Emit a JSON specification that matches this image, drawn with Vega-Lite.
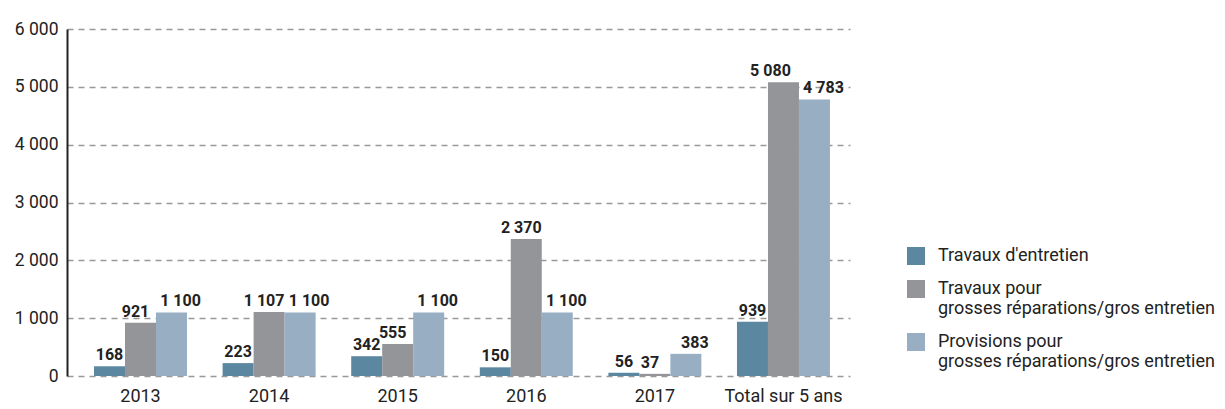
{
  "$schema": "https://vega.github.io/schema/vega-lite/v6.json",
  "autosize": {"type": "none"},
  "padding": {"left": 67, "top": 29, "right": 375, "bottom": 33},
  "width": 783,
  "height": 347,
  "background": "white",
  "config": {
    "font": "Roboto, sans-serif",
    "view": {"stroke": null},
    "locale": {"number": {"decimal": ",", "thousands": " ", "grouping": [3], "currency": ["", " €"]}},
    "style": {"guide-label": {"lineHeight": 20}}
  },
  "data": {
    "values": [
      {"annee": "2013", "serie": "Travaux d'entretien", "valeur": 168},
      {"annee": "2013", "serie": "Travaux pour|grosses réparations/gros entretien", "valeur": 921},
      {"annee": "2013", "serie": "Provisions pour|grosses réparations/gros entretien", "valeur": 1100},
      {"annee": "2014", "serie": "Travaux d'entretien", "valeur": 223},
      {"annee": "2014", "serie": "Travaux pour|grosses réparations/gros entretien", "valeur": 1107},
      {"annee": "2014", "serie": "Provisions pour|grosses réparations/gros entretien", "valeur": 1100},
      {"annee": "2015", "serie": "Travaux d'entretien", "valeur": 342},
      {"annee": "2015", "serie": "Travaux pour|grosses réparations/gros entretien", "valeur": 555},
      {"annee": "2015", "serie": "Provisions pour|grosses réparations/gros entretien", "valeur": 1100},
      {"annee": "2016", "serie": "Travaux d'entretien", "valeur": 150},
      {"annee": "2016", "serie": "Travaux pour|grosses réparations/gros entretien", "valeur": 2370},
      {"annee": "2016", "serie": "Provisions pour|grosses réparations/gros entretien", "valeur": 1100},
      {"annee": "2017", "serie": "Travaux d'entretien", "valeur": 56},
      {"annee": "2017", "serie": "Travaux pour|grosses réparations/gros entretien", "valeur": 37},
      {"annee": "2017", "serie": "Provisions pour|grosses réparations/gros entretien", "valeur": 383},
      {"annee": "Total sur 5 ans", "serie": "Travaux d'entretien", "valeur": 939},
      {"annee": "Total sur 5 ans", "serie": "Travaux pour|grosses réparations/gros entretien", "valeur": 5080},
      {"annee": "Total sur 5 ans", "serie": "Provisions pour|grosses réparations/gros entretien", "valeur": 4783}
    ]
  },
  "encoding": {
    "x": {
      "field": "annee", "type": "nominal", "sort": null,
      "scale": {"paddingInner": 0.277, "paddingOuter": 0.183, "align": 0.574},
      "axis": {"title": null, "labelAngle": 0, "ticks": false, "domain": false, "labelFontSize": 18, "labelColor": "#222", "labelPadding": 11}
    },
    "xOffset": {"field": "serie", "type": "nominal", "sort": null},
    "y": {
      "field": "valeur", "type": "quantitative",
      "scale": {"domain": [0, 6000], "nice": false},
      "axis": {"title": null, "values": [0, 1000, 2000, 3000, 4000, 5000, 6000], "format": ",d", "grid": true, "gridDash": [6, 5], "gridColor": "#999", "gridWidth": 1.3, "domainColor": "#222", "domainWidth": 2, "ticks": false, "labelFontSize": 17.5, "labelColor": "#222", "labelPadding": 9}
    }
  },
  "layer": [
    {
      "mark": {"type": "bar"},
      "encoding": {
        "color": {
          "field": "serie", "type": "nominal", "sort": null,
          "scale": {"range": ["#5b87a0", "#939598", "#98aec3"]},
          "legend": {"title": null, "orient": "none", "legendX": 840, "legendY": 218, "padding": 0, "symbolType": "square", "symbolSize": 324, "symbolStrokeWidth": 0, "symbolOpacity": 1, "labelFontSize": 18, "labelColor": "#222", "labelLimit": 400, "rowPadding": 15, "labelOffset": 13,
            "labelExpr": "split(datum.label, '|')"}
        }
      }
    },
    {
      "transform": [{"filter": "datum.serie == \"Travaux d'entretien\""}],
      "mark": {"type": "text", "baseline": "bottom", "dy": -3, "fontWeight": "bold", "fontSize": 16, "color": "#222"},
      "encoding": {
        "text": {"field": "valeur", "type": "quantitative", "format": ",d"}
      }
    },
    {
      "transform": [{"filter": "indexof(datum.serie, 'Travaux pour') == 0 && datum.annee != 'Total sur 5 ans'"}],
      "mark": {"type": "text", "baseline": "bottom", "dy": -3, "dx": -5, "fontWeight": "bold", "fontSize": 16, "color": "#222"},
      "encoding": {
        "text": {"field": "valeur", "type": "quantitative", "format": ",d"}
      }
    },
    {
      "transform": [{"filter": "indexof(datum.serie, 'Travaux pour') == 0 && datum.annee == 'Total sur 5 ans'"}],
      "mark": {"type": "text", "baseline": "bottom", "dy": -3, "dx": -13, "fontWeight": "bold", "fontSize": 16, "color": "#222"},
      "encoding": {
        "text": {"field": "valeur", "type": "quantitative", "format": ",d"}
      }
    },
    {
      "transform": [{"filter": "indexof(datum.serie, 'Provisions') == 0"}],
      "mark": {"type": "text", "baseline": "bottom", "dy": -3, "dx": 9, "fontWeight": "bold", "fontSize": 16, "color": "#222"},
      "encoding": {
        "text": {"field": "valeur", "type": "quantitative", "format": ",d"}
      }
    },
    {
      "mark": {"type": "rule", "color": "#222", "strokeWidth": 2},
      "encoding": {"y": {"datum": 0}}
    }
  ]
}
